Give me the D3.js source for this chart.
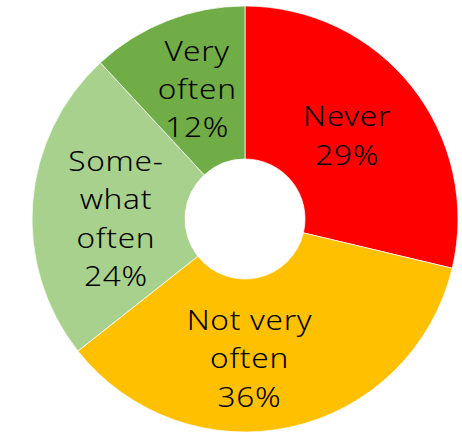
<!DOCTYPE html>
<html>
<head>
<meta charset="utf-8">
<script src="https://cdn.jsdelivr.net/npm/d3@7"></script>
<style>
  html, body { margin: 0; padding: 0; background: #fff; }
  svg { display: block; }
</style>
</head>
<body>
<svg id="chart" width="462" height="432"></svg>
<script>
// Survey answers, clockwise from 12 o'clock
const categories = ["Never", "Not very often", "Some-what often", "Very often"];
const labelLines = [["Never"], ["Not very", "often"], ["Some-", "what", "often"], ["Very", "often"]];
const values = [29, 36, 24, 12];
const colors = ["#FF0000", "#FFC000", "#A9D18E", "#70AD47"];

// label nudges (px) relative to each slice's centroid
const labelNudge = [[-5, 1], [-25, 6], [7, 10], [2, -3]];

const width = 462, height = 432;
const cx = 245, cy = 219;
const outerR = 213, innerR = 60;
const fontSize = 27, lineH = 38.5;
const stretchX = 1.17; // wide geometric look for the labels

const svg = d3.select("#chart");
const g = svg.append("g").attr("transform", `translate(${cx},${cy})`);

const data = categories.map((c, i) => ({ name: c, value: values[i], lines: labelLines[i], color: colors[i], i }));

const pie = d3.pie().value(d => d.value).sort(null);
const arc = d3.arc().innerRadius(innerR).outerRadius(outerR);
const labelArc = d3.arc().innerRadius((innerR + outerR) / 2).outerRadius((innerR + outerR) / 2);

const arcs = pie(data);

g.selectAll("path.slice")
  .data(arcs)
  .join("path")
  .attr("class", "slice")
  .attr("d", arc)
  .attr("fill", d => d.data.color)
  .attr("stroke", "#fff")
  .attr("stroke-width", 0.75);

const labels = g.selectAll("text.lbl")
  .data(arcs)
  .join("text")
  .attr("class", "lbl")
  .attr("font-family", "'Noto Sans', sans-serif")
  .attr("font-weight", 300)
  .attr("font-size", fontSize)
  .attr("letter-spacing", 0.6)
  .attr("fill", "#000")
  .attr("text-anchor", "middle")
  .attr("transform", d => {
    const [x, y] = labelArc.centroid(d);
    const n = labelNudge[d.data.i];
    return `translate(${x + n[0]},${y + n[1]}) scale(${stretchX},1)`;
  });

labels.each(function(d) {
  const lines = d.data.lines.concat([d.data.value + "%"]);
  const t = d3.select(this);
  const top = -(lines.length - 1) * lineH / 2;
  lines.forEach((s, k) => {
    t.append("tspan")
      .attr("x", 0)
      .attr("y", top + k * lineH)
      .attr("dominant-baseline", "central")
      .text(s);
  });
});
</script>
</body>
</html>
